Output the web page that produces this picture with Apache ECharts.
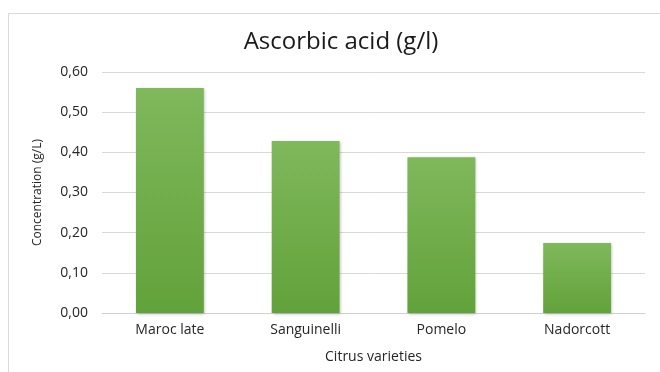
<!DOCTYPE html>
<html>
<head>
<meta charset="utf-8">
<script src="https://cdn.jsdelivr.net/npm/echarts@6/dist/echarts.min.js"></script>
<style>
  html, body { margin: 0; padding: 0; background: #fff; }
  #chart { width: 660px; height: 372px; }
</style>
</head>
<body>
<div id="chart"></div>
<script>
// Ascorbic acid content per citrus variety (g/l)
const varieties = ['Maroc late', 'Sanguinelli', 'Pomelo', 'Nadorcott'];
const ascorbicAcid = [0.56, 0.428, 0.388, 0.174];
const yTicks = [0, 0.1, 0.2, 0.3, 0.4, 0.5, 0.6];

const fontFamily = '"Open Sans", Lato, sans-serif';
const chart = echarts.init(document.getElementById('chart'));

chart.setOption({
  backgroundColor: '#fff',
  animation: false,
  graphic: [{
    type: 'rect',
    shape: { x: 8.5, y: 13.5, width: 700, height: 400 },
    style: { fill: 'none', stroke: '#d9d9d9', lineWidth: 1 },
    silent: true
  }],
  title: {
    text: 'Ascorbic acid (g/l)',
    left: 336,
    top: 25,
    textAlign: 'center',
    textStyle: { fontFamily, fontSize: 24, fontWeight: 'normal', color: '#1a1a1a' }
  },
  grid: { left: 102, right: 15, top: 72, bottom: 59 },
  xAxis: {
    type: 'category',
    data: varieties,
    name: 'Citrus varieties',
    nameLocation: 'middle',
    nameGap: 37,
    nameTextStyle: { fontFamily, fontSize: 14, color: '#262626' },
    axisLine: { lineStyle: { color: '#d0d0d0' } },
    axisTick: { show: false },
    axisLabel: { fontFamily, fontSize: 14, color: '#262626', margin: 10 }
  },
  yAxis: {
    type: 'value',
    min: yTicks[0],
    max: yTicks[yTicks.length - 1],
    interval: 0.1,
    name: 'Concentration (g/L)',
    nameLocation: 'middle',
    nameGap: 58,
    nameTextStyle: { fontFamily, fontSize: 12, color: '#262626' },
    axisLine: { show: false },
    axisTick: { show: false },
    splitLine: { lineStyle: { color: '#d9d9d9' } },
    axisLabel: {
      fontFamily, fontSize: 14, color: '#262626', margin: 14,
      formatter: v => v.toFixed(2).replace('.', ',')
    }
  },
  series: [{
    type: 'bar',
    data: ascorbicAcid,
    barWidth: '50%',
    itemStyle: {
      color: new echarts.graphic.LinearGradient(0, 0, 0, 1, [
        { offset: 0, color: '#80b85c' },
        { offset: 1, color: '#62a23a' }
      ]),
      shadowColor: 'rgba(0,0,0,0.25)',
      shadowBlur: 3,
      shadowOffsetX: 1,
      shadowOffsetY: 1
    }
  }]
});
</script>
</body>
</html>
